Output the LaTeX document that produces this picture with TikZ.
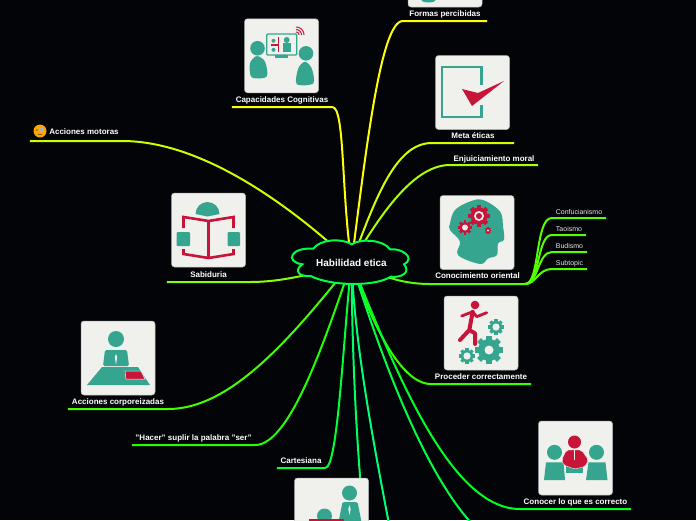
\documentclass[tikz,border=0pt]{standalone}
\usepackage{fontspec}
\setmainfont{Liberation Sans}
\usepackage{xcolor}
\usepackage{tikz}
\usetikzlibrary{shapes, positioning, calc, backgrounds}
\definecolor{canvas}{RGB}{2, 4, 7}
\definecolor{cardfill}{RGB}{240, 240, 236}
\definecolor{teal}{RGB}{53, 165, 143}
\definecolor{crimson}{RGB}{200, 20, 56}
\definecolor{hubline}{RGB}{0, 255, 68}
\definecolor{capaline}{RGB}{255, 255, 0}
\definecolor{metaline}{RGB}{212, 255, 0}
\definecolor{motoline}{RGB}{204, 255, 0}
\definecolor{enjuline}{RGB}{170, 255, 0}
\definecolor{sabiline}{RGB}{136, 255, 0}
\definecolor{conoline}{RGB}{85, 255, 0}
\definecolor{corpline}{RGB}{68, 255, 0}
\definecolor{procline}{RGB}{51, 255, 0}
\definecolor{haceline}{RGB}{34, 255, 0}
\definecolor{carteline}{RGB}{0, 255, 51}
\definecolor{correline}{RGB}{0, 255, 34}
\definecolor{lowline}{RGB}{0, 255, 102}
\definecolor{lowaline}{RGB}{0, 255, 119}
\definecolor{lowbline}{RGB}{0, 255, 68}

\newcommand{\drawgear}[5]{% x, y, body radius, hole radius, colour
    \foreach \ang in {0,45,...,315}
        \fill[#5, shift={(#1,#2)}, rotate=\ang] (-0.25*#3,0) rectangle (0.25*#3,1.28*#3);
    \fill[#5] (#1,#2) circle[radius=#3];
    \fill[cardfill] (#1,#2) circle[radius=#4];
}

\begin{document}
\begin{tikzpicture}[x=1pt, y=-1pt,
    card/.style={rectangle, draw=gray!60, line width=0.5pt, rounded corners=3pt, fill=cardfill, minimum width=74pt, minimum height=74pt},
    tag/.style={anchor=south, inner sep=0pt, text height=6pt, text depth=4pt, text=white, font=\bfseries\fontsize{8}{9}\selectfont},
    subtag/.style={anchor=south, inner sep=0pt, text height=6pt, text depth=3pt, text=white!90!black, font=\fontsize{7}{8}\selectfont},
    branch/.style={line width=2pt, draw=#1}
]
    \useasboundingbox (0,0) rectangle (696,520);

    % Central topic
    \node[inner sep=0pt, text=white, font=\bfseries\fontsize{10}{11}\selectfont] (hub) at (351.5,262.5) {Habilidad etica};

    % Cards
    \node[card] (capacard) at (281.5,55.75) {};
    \node[card] (formacard) at (445,-30) {};
    \node[card] (metacard) at (472.5,92.5) {};
    \node[card] (sabicard) at (208.5,230) {};
    \node[card] (conocard) at (477,232.5) {};
    \node[card] (proccard) at (481,333) {};
    \node[card] (corpcard) at (118,358) {};
    \node[card] (correcard) at (575.5,458) {};
    \node[card] (lowcard) at (331.5,515) {};

    % Labels
    \node[tag, minimum width=100pt] (capa) at (282,107) {Capacidades Cognitivas};
    \node[tag, minimum width=84pt] (forma) at (445,21) {Formas percibidas};
    \node[tag, minimum width=82pt] (meta) at (473,143) {Meta éticas};
    \node[tag, minimum width=88pt, text depth=3pt] (enjui) at (494,165) {Enjuiciamiento moral};
    \node[tag, minimum width=92pt, text depth=6pt] (moto) at (76,141) {\hspace{16pt}Acciones motoras};
    \node[tag, minimum width=83pt] (sabi) at (208.5,282) {Sabiduria};
    \node[tag, minimum width=95pt, text depth=5pt] (cono) at (477.5,284) {Conocimiento oriental};
    \node[tag, minimum width=100pt] (proc) at (481,384) {Proceder correctamente};
    \node[tag, minimum width=100pt] (corp) at (118,409) {Acciones corporeizadas};
    \node[tag, minimum width=123pt] (hacer) at (193.5,445) {"Hacer" suplir la palabra "ser"};
    \node[tag, minimum width=48pt] (carte) at (301,468) {Cartesiana};
    \node[tag, minimum width=111pt] (corre) at (575.5,509) {Conocer lo que es correcto};
    \node[subtag, minimum width=54pt] (confu) at (579,218) {Confucianismo};
    \node[subtag, minimum width=34pt] (taois) at (569,235) {Taoismo};
    \node[subtag, minimum width=35pt] (budis) at (569.5,252) {Budismo};
    \node[subtag, minimum width=35pt] (subto) at (569.5,269) {Subtopic};

    \node[circle, fill=orange!70!yellow, minimum size=13pt, inner sep=0pt] (smile) at (40,131) {};
    \fill[gray!60] (smile.center)+(1.8,-1) circle[radius=2.4];
    \fill[brown!70!black] (smile.center)+(-3.2,-1) circle[radius=0.9];
    \draw[brown!70!black, line width=0.4pt] (smile.center)+(-2.5,3.2) -- +(2,3.2);

    % Off-page ends
    \coordinate (lowa) at (392,540);
    \coordinate (lowb) at (480,532);
    \coordinate (lowc) at (362,500);

    % Connections
    \begin{scope}[on background layer]
        \fill[canvas] (0,0) rectangle (696,520);
        \draw[branch=capaline] (hub.center) .. controls (341,190) and (345,107) .. (capa.south east) -- (capa.south west);
        \draw[branch=capaline] (hub.center) .. controls (365,160) and (380,21) .. (forma.south west) -- (forma.south east);
        \draw[branch=metaline] (hub.center) .. controls (375,200) and (395,143) .. (meta.south west) -- (meta.south east);
        \draw[branch=enjuline] (hub.center) .. controls (375,225) and (410,165) .. (enjui.south west) -- (enjui.south east);
        \draw[branch=motoline] (hub.center) .. controls (295,210) and (205,141) .. (moto.south east) -- (moto.south west);
        \draw[branch=sabiline] (hub.center) .. controls (320,272) and (285,282) .. (sabi.south east) -- (sabi.south west);
        \draw[branch=conoline] (hub.center) .. controls (380,275) and (400,284) .. (cono.south west) -- (cono.south east);
        \draw[branch=procline] (hub.center) .. controls (370,320) and (400,384) .. (proc.south west) -- (proc.south east);
        \draw[branch=corpline] (hub.center) .. controls (290,340) and (230,409) .. (corp.south east) -- (corp.south west);
        \draw[branch=haceline] (hub.center) .. controls (325,340) and (290,445) .. (hacer.south east) -- (hacer.south west);
        \draw[branch=carteline] (hub.center) .. controls (343,340) and (338,468) .. (carte.south east) -- (carte.south west);
        \draw[branch=correline] (hub.center) .. controls (395,370) and (450,509) .. (corre.south west) -- (corre.south east);
        \draw[branch=lowbline] (hub.center) .. controls (385,370) and (430,485) .. (lowb);
        \draw[branch=lowaline] (hub.center) .. controls (355,350) and (375,450) .. (lowa);
        \draw[branch=lowline] (hub.center) .. controls (352,340) and (355,420) .. (lowc);
        % Sub branches
        \draw[branch=conoline] (cono.south east) .. controls (540,284) and (535,218) .. (confu.south west) -- (confu.south east);
        \draw[branch=conoline] (cono.south east) .. controls (540,284) and (537,235) .. (taois.south west) -- (taois.south east);
        \draw[branch=conoline] (cono.south east) .. controls (538,284) and (538,252) .. (budis.south west) -- (budis.south east);
        \draw[branch=conoline] (cono.south east) .. controls (536,284) and (538,269) .. (subto.south west) -- (subto.south east);
        % Cloud
        \draw[hubline, line width=2pt, fill=canvas] (313.3,248.7)
            .. controls (320,239) and (342,238) .. (351.7,244.3)
            .. controls (361,238) and (384,240) .. (390,249.3)
            .. controls (402,248) and (416,258) .. (404,264.3)
            .. controls (411,272) and (402,278) .. (390.7,276.7)
            .. controls (375,287) and (330,286) .. (310.7,276)
            .. controls (298,277) and (294,270) .. (302.3,264.3)
            .. controls (285,262) and (290,247) .. cycle;
    \end{scope}

    % Icon: two people and a screen
    \begin{scope}[shift={(capacard.center)}]
        \fill[teal] (-24,-7.5) circle[radius=7.3];
        \fill[teal] plot[smooth cycle] coordinates {(-31.5,7.6) (-24.8,0.3) (-16.5,5.9) (-14.8,20.9) (-29.8,21.6)};
        \fill[teal] (24.5,-2.4) circle[radius=7.3];
        \fill[teal] plot[smooth cycle] coordinates {(16.8,12.6) (23.5,6) (30.2,12.6) (31.8,27.6) (15.2,28.3)};
        \draw[teal, line width=1.2pt, rounded corners=1pt] (-14.8,-21.75) rectangle (15.2,-0.75);
        \fill[teal] (-6.5,-0.75) rectangle (6.8,2.6);
        \draw[crimson, line width=1.2pt] (-2.8,-19) -- (-2.8,-4.1) (-11,-10.75) -- (-2.8,-10.75);
        \fill[teal] (-8,-15) circle[radius=2] (-8,-6) circle[radius=2];
        \fill[teal] (5.2,-15.75) circle[radius=3];
        \fill[teal] (1.8,-12.4) rectangle (9.2,-4);
        \foreach \rad in {3,5.5,8}
            \draw[crimson, line width=1pt, domain=0:90, samples=10] plot ({14.5+\rad*cos(\x)},{-20.75-\rad*sin(\x)});
    \end{scope}

    % Icon: top card
    \begin{scope}[shift={(formacard.center)}]
        \fill[teal] (-16.5,30) ellipse[x radius=7, y radius=2.5];
    \end{scope}

    % Icon: check mark
    \begin{scope}[shift={(metacard.center)}]
        \draw[teal, line width=2.8pt] (8.7,-7.5) -- (8.7,-25.5) -- (-30.5,-25.5) -- (-30.5,24.5) -- (8.7,24.5) -- (8.7,12);
        \fill[crimson] (-10.5,-3.5) -- (5.5,0.5) -- (31.5,-11.5) -- (-0.5,13.5) -- cycle;
    \end{scope}

    % Icon: open book
    \begin{scope}[shift={(sabicard.center)}]
        \fill[teal] (-13,-16) arc[start angle=180, end angle=0, radius=12pt] -- (-1,-13.5) -- cycle;
        \draw[crimson, line width=2.6pt] (-25,-2) -- (-25,-13) -- (0,-9) -- (25,-13) -- (25,-2);
        \draw[crimson, line width=2.6pt] (-25,19) -- (-25,24) -- (0,28) -- (25,24) -- (25,19);
        \draw[crimson, line width=3pt] (0,-9) -- (0,28);
        \fill[teal, rounded corners=1pt] (-32,2) rectangle (-18.5,16);
        \fill[teal, rounded corners=1pt] (19,2) rectangle (31.5,16);
    \end{scope}

    % Icon: head with gears
    \begin{scope}[shift={(conocard.center)}]
        \fill[teal] plot[smooth cycle, tension=0.6] coordinates {(-27,-9) (-22,-22.5) (-7,-31) (6,-32.5) (23,-21) (26,-6) (27,7) (21,11) (20,22.5) (11,26) (3,31.5) (-19,22.5) (-17,9) (-27,-2.5)};
        \drawgear{2}{-16.5}{8.5}{5}{crimson}
        \fill[crimson] (2,-16.5) circle[radius=3];
        \drawgear{-12}{-5}{5.6}{3}{crimson}
        \drawgear{11}{-2}{2.6}{1.2}{crimson}
    \end{scope}

    % Icon: runner and gears
    \begin{scope}[shift={(proccard.center)}]
        \fill[crimson] (-6,-28) circle[radius=4.3];
        \draw[crimson, line width=4pt, line cap=round, line join=round] (-8.3,-21.3) -- (-11.7,-3) -- (-21,7);
        \draw[crimson, line width=4pt, line cap=round, line join=round] (-11.7,-3) -- (-6,0.3) -- (-6,11);
        \draw[crimson, line width=2.8pt, line cap=round, line join=round] (-8.3,-21.3) -- (-19.3,-17);
        \draw[crimson, line width=2.8pt, line cap=round, line join=round] (-8.3,-21.3) -- (-4.3,-16.3) -- (5.7,-20.3);
        \drawgear{8}{17}{11}{4.5}{teal}
        \drawgear{15}{-6}{6.2}{3.6}{teal}
        \drawgear{-14}{23}{6.2}{3.6}{teal}
    \end{scope}

    % Icon: person at a desk
    \begin{scope}[shift={(corpcard.center)}]
        \fill[teal] (-2,-19) circle[radius=8];
        \fill[teal, rounded corners=1.5pt] (-15,8) -- (-13,-8) -- (9,-8) -- (11,8) -- cycle;
        \fill[cardfill] (-2,-4) -- (-0.8,-1) -- (-2,7) -- (-3.2,-1) -- cycle;
        \fill[teal] (-31,27) -- (-16,9) -- (20,9) -- (32,27) -- cycle;
        \fill[crimson, draw=cardfill, line width=0.5pt] (7,13) -- (23,13) -- (27,21) -- (8,21) -- cycle;
    \end{scope}

    % Icon: meeting
    \begin{scope}[shift={(correcard.center)}]
        \fill[teal] (-21,-5.7) circle[radius=7.5];
        \fill[teal] (-31.5,22) -- (-29.5,4.3) -- (-12,4.3) -- (-10.5,22) -- cycle;
        \fill[teal] (21,-5.7) circle[radius=7.5];
        \fill[teal] (10.5,22) -- (13,4.3) -- (30,4.3) -- (32,22) -- cycle;
        \fill[teal] (-10,8) rectangle (7.5,15);
        \fill[crimson] (-1,-16) circle[radius=6.5];
        \fill[crimson, draw=cardfill, line width=0.4pt, rounded corners=2pt] (-14,2) -- (-9,-8) -- (6,-8) -- (13,2) -- (9.5,8.7) -- (-1,11) -- (-12,7) -- cycle;
        \draw[cardfill, line width=0.5pt] (-1,-8) -- (-1,2);
    \end{scope}

    % Icon: lower card
    \begin{scope}[shift={(lowcard.center)}]
        \fill[teal] (18,-22) circle[radius=7.5];
        \fill[teal, rounded corners=1.5pt] (7,7) -- (11,-13) -- (26,-13) -- (30,7) -- cycle;
        \fill[cardfill] (18,-10) -- (19.2,-6) -- (18,0) -- (16.8,-6) -- cycle;
        \fill[teal] (-7,1) circle[radius=7.5];
        \fill[crimson] (-22.5,3.5) rectangle (12,10);
    \end{scope}
\end{tikzpicture}
\end{document}
